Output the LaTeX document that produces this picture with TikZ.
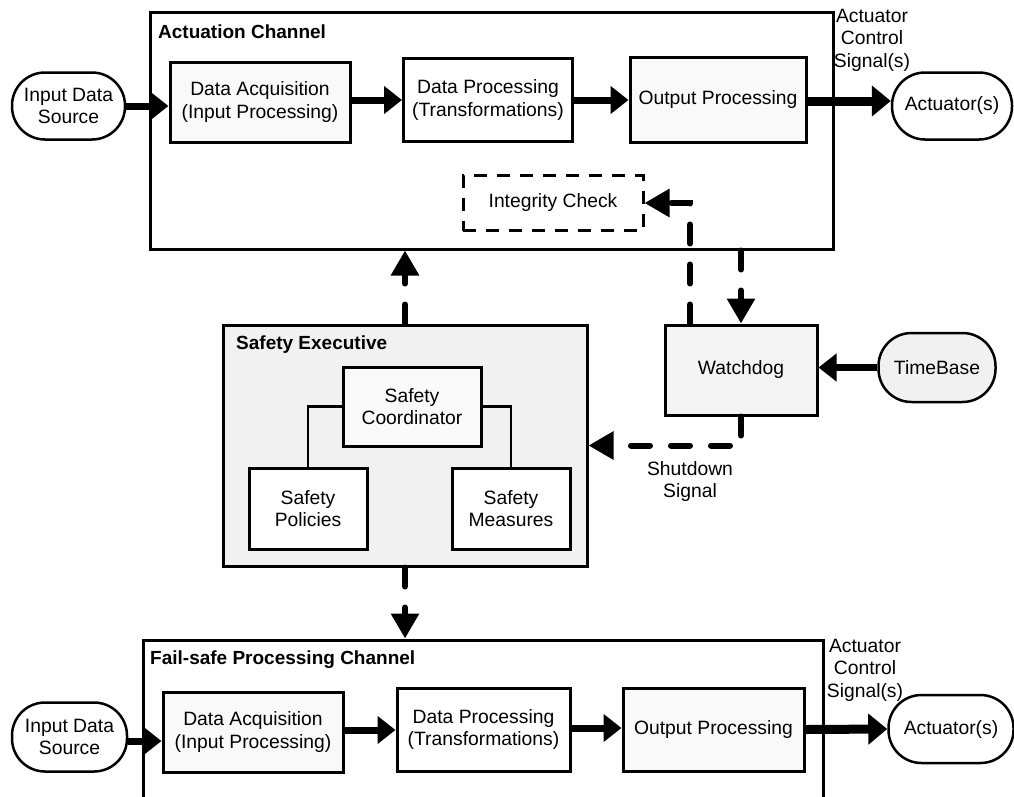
\documentclass[tikz,border=0pt]{standalone}
\usepackage{fontspec}
\setmainfont{Liberation Sans}
\usetikzlibrary{arrows.meta}
\begin{document}
\begin{tikzpicture}[x=1pt,y=-1pt,
  font=\fontsize{19.3}{22.5}\selectfont,
  outer/.style={draw, line width=3pt, inner sep=0pt},
  blk/.style={draw, line width=3pt, align=center, inner sep=0pt},
  pill/.style={draw, line width=2.5pt, rounded corners=33pt, align=center, inner sep=0pt},
  ttl/.style={anchor=west, font=\fontsize{19}{22.5}\selectfont\bfseries, inner sep=0pt},
  lbl/.style={align=center, inner sep=0pt},
  fat/.style={line width=7pt, -{Triangle[length=18pt,width=27pt]}},
  fatter/.style={line width=9pt, -{Triangle[length=19pt,width=30pt]}},
  dsh/.style={line width=6pt, dash pattern=on 19pt off 21pt, line cap=round, -{Triangle[length=25pt,width=27pt]}},
  thinline/.style={line width=2.5pt}
]
\useasboundingbox (0,0) rectangle (1014,796);
\clip (0,0) rectangle (1014,796);

% ---------- Actuation channel ----------
\node[outer, minimum width=683pt, minimum height=237pt] (ac) at (491.5,130.5) {};
\node[ttl] (act) at (158,32) {Actuation Channel};
\node[pill, minimum width=113pt, minimum height=67pt] (ids1) at (68.5,106) {Input Data\\Source};
\node[blk, fill=gray!5, minimum width=180pt, minimum height=80pt] (da1) at (260,102) {Data Acquisition\\(Input Processing)};
\node[blk, fill=white, minimum width=169pt, minimum height=83pt] (dp1) at (488,100) {Data Processing\\(Transformations)};
\node[blk, fill=gray!5, minimum width=176pt, minimum height=85pt] (op1) at (718,100) {Output Processing};
\node[pill, minimum width=120pt, minimum height=67pt] (act1) at (952,106) {Actuator(s)};
\node[lbl] (acs1) at (872,40) {Actuator\\Control\\Signal(s)};
\node[blk, dashed, dash pattern=on 13pt off 10pt, minimum width=180pt, minimum height=55pt] (ic) at (553,203) {Integrity Check};

\draw[fat] (ids1.east) -- (ids1.east -| da1.west);
\draw[fat] (da1.east |- 0,100) -- (dp1.west);
\draw[fat] (dp1.east) -- (op1.west);
\draw[fatter] (op1.east |- 0,101) -- (act1.west |- 0,101);

% ---------- Safety executive ----------
\node[outer, fill=gray!11, minimum width=364pt, minimum height=241pt] (se) at (405,445.5) {};
\node[ttl] (set) at (236,345) {Safety Executive};
\node[blk, fill=gray!4, minimum width=138pt, minimum height=79pt] (sc) at (412,406.5) {Safety\\Coordinator};
\node[blk, fill=white, minimum width=118pt, minimum height=81pt] (sp) at (308,508.5) {Safety\\Policies};
\node[blk, fill=white, minimum width=118pt, minimum height=81pt] (sm) at (511,508.5) {Safety\\Measures};
\draw[thinline] (sc.west) -| (sp.north);
\draw[thinline] (sc.east) -| (sm.north);

% ---------- Watchdog / TimeBase ----------
\node[blk, fill=gray!9, minimum width=152pt, minimum height=90pt] (wd) at (741,370) {Watchdog};
\node[pill, fill=gray!11, minimum width=117pt, minimum height=69pt] (tb) at (937,367.5) {TimeBase};
\node[lbl] (sd) at (690,481.5) {Shutdown\\Signal};
\draw[fat] (tb.west) -- (tb.west -| wd.east);
\draw[dsh] ([xshift=-51pt]wd.north) |- (ic.east);
\draw[dsh] (wd.north |- ac.south) -- (wd.north);
\draw[dsh] (wd.south) |- (se.east);
\draw[dsh] (se.north) -- (se.north |- ac.south);

% ---------- Fail-safe processing channel ----------
\node[outer, minimum width=680pt, minimum height=200pt] (fs) at (483,740) {};
\draw[dsh] (se.south) -- (se.south |- fs.north);
\node[ttl] (fst) at (150,660) {Fail-safe Processing Channel};
\node[pill, minimum width=115pt, minimum height=69pt] (ids2) at (69.5,737) {Input Data\\Source};
\node[blk, fill=gray!5, minimum width=180pt, minimum height=80pt] (da2) at (253,732) {Data Acquisition\\(Input Processing)};
\node[blk, fill=white, minimum width=173pt, minimum height=83pt] (dp2) at (483.5,729.5) {Data Processing\\(Transformations)};
\node[blk, fill=gray!5, minimum width=181pt, minimum height=83pt] (op2) at (713.5,729.5) {Output Processing};
\node[pill, minimum width=125pt, minimum height=68pt] (act2) at (951,729) {Actuator(s)};
\node[lbl] (acs2) at (865,670) {Actuator\\Control\\Signal(s)};

\draw[fat] (ids2.east |- 0,741) -- (da2.west |- 0,741);
\draw[fat] (da2.east |- 0,730) -- (dp2.west |- 0,730);
\draw[fat] (dp2.east |- 0,728) -- (op2.west |- 0,728);
\draw[fatter] (op2.east) -- (act2.west);
\end{tikzpicture}
\end{document}
